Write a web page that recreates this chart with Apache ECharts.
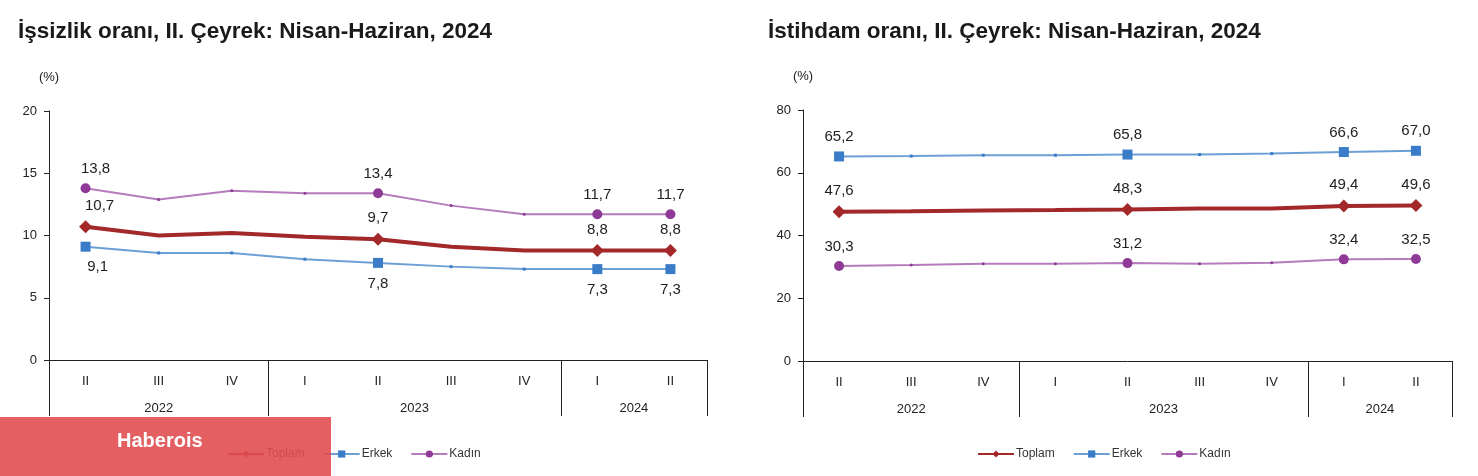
<!DOCTYPE html>
<html>
<head>
<meta charset="utf-8">
<script src="https://cdn.jsdelivr.net/npm/echarts@6/dist/echarts.min.js"></script>
<style>
html,body{margin:0;padding:0;background:#fff;}
#c{width:1478px;height:476px;}
</style>
</head>
<body>
<div id="c"></div>
<script>
const quarters = ['II','III','IV','I','II','III','IV','I','II'];
const years = ['2022','2023','2024'];
const yearCounts = [3, 4, 2];
const seriesNames = ['Toplam','Erkek','Kadın'];
const labeledIdx = [0, 4, 7, 8];

const unempToplam = [10.7, 10.0, 10.2, 9.9, 9.7, 9.1, 8.8, 8.8, 8.8];
const unempErkek  = [9.1, 8.6, 8.6, 8.1, 7.8, 7.5, 7.3, 7.3, 7.3];
const unempKadin  = [13.8, 12.9, 13.6, 13.4, 13.4, 12.4, 11.7, 11.7, 11.7];

const empToplam = [47.6, 47.7, 48.0, 48.1, 48.3, 48.6, 48.6, 49.4, 49.6];
const empErkek  = [65.2, 65.3, 65.6, 65.6, 65.8, 65.8, 66.1, 66.6, 67.0];
const empKadin  = [30.3, 30.6, 31.0, 31.0, 31.2, 31.0, 31.3, 32.4, 32.5];

const leftTitle = 'İşsizlik oranı, II. Çeyrek: Nisan-Haziran, 2024';
const rightTitle = 'İstihdam oranı, II. Çeyrek: Nisan-Haziran, 2024';

// derived group positions
const yearCenters = [], yearBounds = [-0.5];
let acc = 0;
yearCounts.forEach(n => { yearCenters.push(acc + (n - 1) / 2); acc += n; yearBounds.push(acc - 0.5); });

const NARROW = '"Liberation Sans Narrow", "Arial Narrow", "Liberation Sans", Arial, sans-serif';
const SANS = '"Liberation Sans", Arial, sans-serif';

const styles = {
  Toplam: { color: '#a3282a', width: 4, symbol: 'diamond', size: 13 },
  Erkek:  { color: '#6c9fd4', mark: '#3b7cc8', width: 2, symbol: 'rect', size: 10 },
  Kadın:  { color: '#b57cbc', mark: '#8e3a96', width: 2, symbol: 'circle', size: 10 }
};

function fmt(v) { return v.toFixed(1).replace('.', ','); }

function makeSeries(name, values, gridIdx, labelPos, firstOffset) {
  const st = styles[name];
  return {
    name: name,
    type: 'line',
    xAxisIndex: gridIdx * 2,
    yAxisIndex: gridIdx,
    symbol: st.symbol,
    symbolSize: st.size,
    lineStyle: { color: st.color, width: st.width },
    itemStyle: { color: st.mark || st.color },
    z: name === 'Toplam' ? 3 : 2,
    data: values.map((v, i) => {
      const lab = labeledIdx.indexOf(i) >= 0;
      return {
        value: [i, v],
        symbolSize: lab ? st.size : 3,
        label: {
          show: lab,
          position: labelPos,
          distance: labelPos === 'top' ? 7 : 8,
          offset: (i === 0 && firstOffset) ? firstOffset : [0, 0],
          formatter: p => fmt(p.value[1]),
          fontFamily: NARROW, fontSize: 15, color: '#222'
        }
      };
    })
  };
}

function xAxes(gridIdx) {
  return [
    {
      type: 'value', gridIndex: gridIdx, min: -0.5, max: 8.5, position: 'bottom',
      axisLine: { show: true, onZero: false, lineStyle: { color: '#222', width: 1 } },
      axisTick: { show: true, customValues: yearBounds, length: 56, lineStyle: { color: '#222' } },
      axisLabel: { customValues: quarters.map((q, i) => i), formatter: v => quarters[Math.round(v)],
        margin: 15, fontFamily: NARROW, fontSize: 13, color: '#222' },
      splitLine: { show: false }
    },
    {
      type: 'value', gridIndex: gridIdx, min: -0.5, max: 8.5, position: 'bottom',
      axisLine: { show: false, onZero: false }, axisTick: { show: false },
      axisLabel: { customValues: yearCenters, formatter: v => years[yearCenters.indexOf(v)],
        margin: 42, fontFamily: NARROW, fontSize: 13, color: '#222' },
      splitLine: { show: false }
    }
  ];
}

function yAxis(gridIdx, max, interval) {
  return {
    type: 'value', gridIndex: gridIdx, min: 0, max: max, interval: interval,
    name: '(%)', nameLocation: 'end', nameGap: 27,
    nameTextStyle: { fontFamily: NARROW, fontSize: 13, color: '#222', align: 'center' },
    axisLine: { show: true, onZero: false, lineStyle: { color: '#222' } },
    axisTick: { show: true, length: 5, lineStyle: { color: '#222' } },
    axisLabel: { fontFamily: NARROW, fontSize: 13, color: '#222', margin: 12 },
    splitLine: { show: false }
  };
}

function legend(left) {
  return {
    data: seriesNames, left: left, top: 443, itemWidth: 36, itemHeight: 9, itemGap: 18,
    textStyle: { fontFamily: NARROW, fontSize: 12, color: '#333', padding: [0, 0, 0, -3] },
    selectedMode: false
  };
}

const chart = echarts.init(document.getElementById('c'));
chart.setOption({
  backgroundColor: '#fff',
  animation: false,
  title: [
    { text: leftTitle, left: 18, top: 20, padding: 0, textStyle: { fontFamily: SANS, fontWeight: 'bold', fontSize: 22.5, color: '#1a1a1a' } },
    { text: rightTitle, left: 768, top: 20, padding: 0, textStyle: { fontFamily: SANS, fontWeight: 'bold', fontSize: 22.5, color: '#1a1a1a' } }
  ],
  grid: [
    { left: 49, top: 111, width: 658, height: 249 },
    { left: 803, top: 110, width: 649, height: 251 }
  ],
  xAxis: xAxes(0).concat(xAxes(1)),
  yAxis: [yAxis(0, 20, 5), yAxis(1, 80, 20)],
  legend: [legend(222), legend(972)],
  series: [
    makeSeries('Kadın', unempKadin, 0, 'top', [10, 0]),
    makeSeries('Erkek', unempErkek, 0, 'bottom', [12, 0]),
    makeSeries('Toplam', unempToplam, 0, 'top', [14, 0]),
    makeSeries('Kadın', empKadin, 1, 'top', null),
    makeSeries('Erkek', empErkek, 1, 'top', null),
    makeSeries('Toplam', empToplam, 1, 'top', null)
  ],
  graphic: [
    { type: 'rect', shape: { x: 0, y: 417, width: 331, height: 59 }, style: { fill: 'rgba(224,78,80,0.9)' }, z: 100 },
    { type: 'text', x: 117, y: 431, style: { text: 'Haberois', fill: '#fff', font: 'bold 20px "Liberation Sans", Arial, sans-serif' }, z: 101 }
  ]
});
</script>
</body>
</html>
